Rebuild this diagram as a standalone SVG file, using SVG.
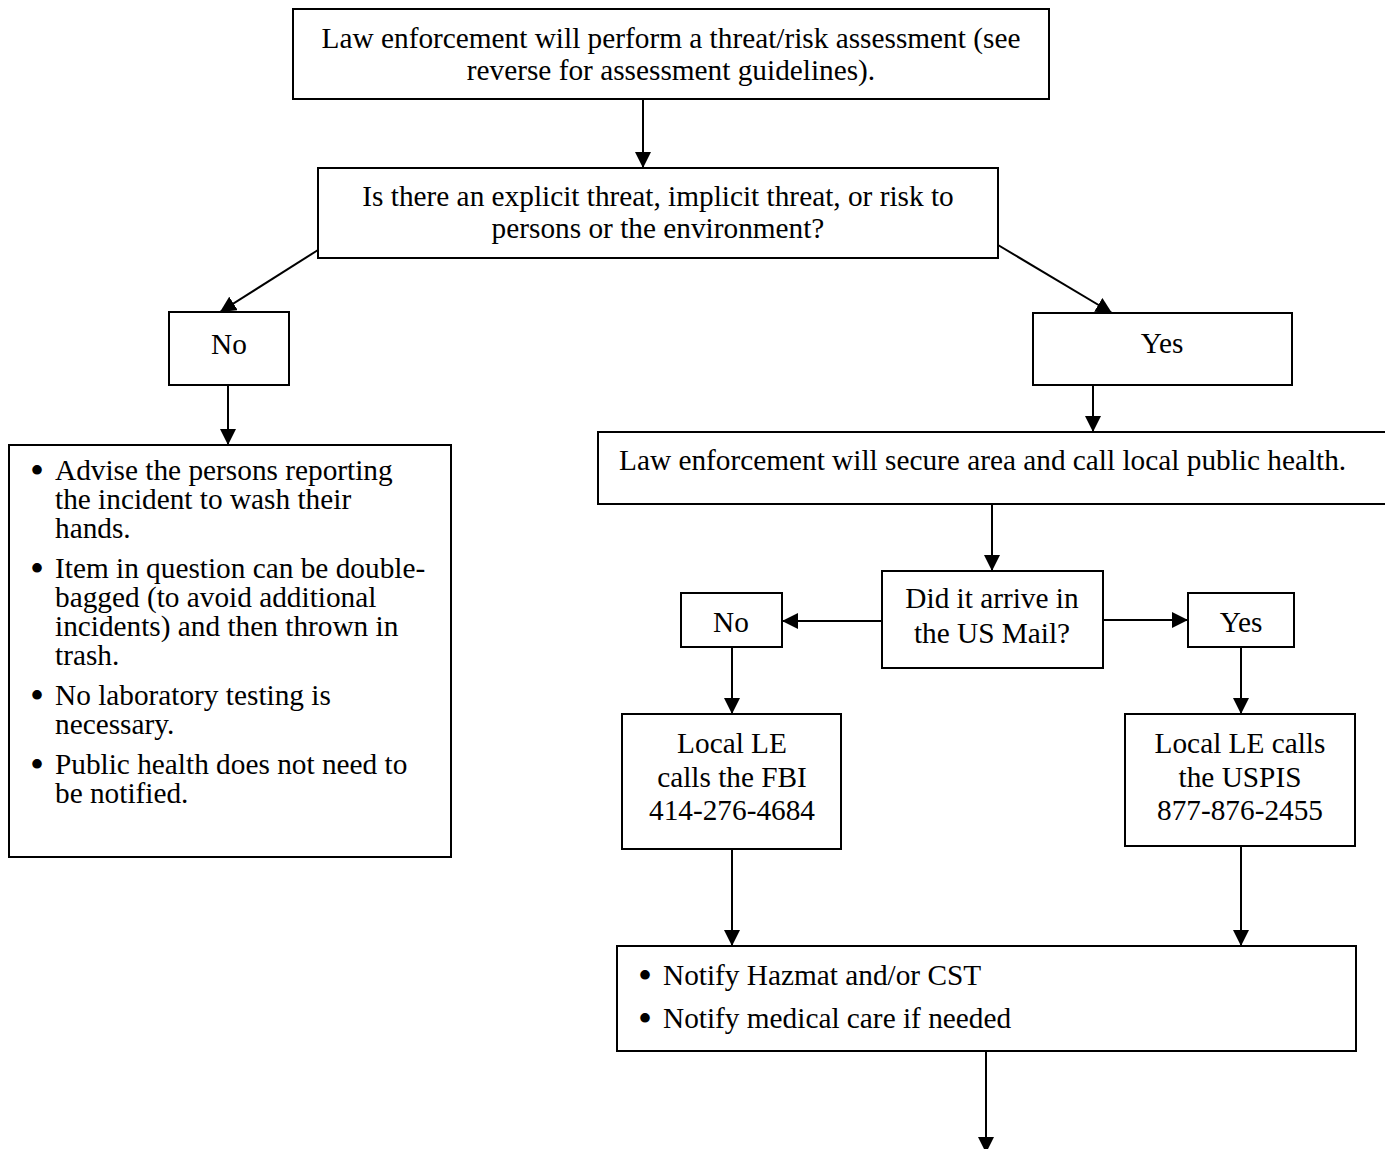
<svg xmlns="http://www.w3.org/2000/svg" width="1385" height="1149" viewBox="0 0 1385 1149">
<style>
.box{fill:#fff;stroke:#000;stroke-width:2}
.t{font-family:"Liberation Serif","Times New Roman",serif;font-size:29.3px;fill:#000}
.c{text-anchor:middle}
.b{text-anchor:middle;font-size:40px}
.conn line{stroke:#000;stroke-width:2;marker-end:url(#ah)}
</style>
<defs>
<marker id="ah" markerUnits="userSpaceOnUse" markerWidth="16" markerHeight="16" refX="16" refY="8" orient="auto">
<path d="M0,0 L16,8 L0,16 Z" fill="#000"/>
</marker>
</defs>
<rect width="1385" height="1149" fill="#fff"/>
<g class="conn">
<line x1="643" y1="99" x2="643" y2="168"/>
<line x1="318" y1="250" x2="220" y2="312"/>
<line x1="998" y1="245" x2="1112" y2="313"/>
<line x1="228" y1="385" x2="228" y2="445"/>
<line x1="1093" y1="385" x2="1093" y2="432"/>
<line x1="992" y1="504" x2="992" y2="571"/>
<line x1="882" y1="621" x2="782" y2="621"/>
<line x1="1103" y1="620" x2="1188" y2="620"/>
<line x1="732" y1="647" x2="732" y2="714"/>
<line x1="1241" y1="647" x2="1241" y2="714"/>
<line x1="732" y1="849" x2="732" y2="946"/>
<line x1="1241" y1="846" x2="1241" y2="946"/>
<line x1="986" y1="1051" x2="986" y2="1153"/>
</g>
<g id="n-assess">
<rect class="box" x="293" y="9" width="756" height="90"/>
<text class="t c" x="671" y="48">Law enforcement will perform a threat/risk assessment (see</text>
<text class="t c" x="671" y="80">reverse for assessment guidelines).</text>
</g>
<g id="n-threat">
<rect class="box" x="318" y="168" width="680" height="90"/>
<text class="t c" x="658" y="206">Is there an explicit threat, implicit threat, or risk to</text>
<text class="t c" x="658" y="238">persons or the environment?</text>
</g>
<g id="n-no1">
<rect class="box" x="169" y="312" width="120" height="73"/>
<text class="t c" x="229" y="354">No</text>
</g>
<g id="n-yes1">
<rect class="box" x="1033" y="313" width="259" height="72"/>
<text class="t c" x="1162" y="353">Yes</text>
</g>
<g id="n-noaction">
<rect class="box" x="9" y="445" width="442" height="412"/>
<text class="t b" x="37" y="484">•</text>
<text class="t" x="55" y="480">Advise the persons reporting</text>
<text class="t" x="55" y="509">the incident to wash their</text>
<text class="t" x="55" y="538">hands.</text>
<text class="t b" x="37" y="582">•</text>
<text class="t" x="55" y="578">Item in question can be double-</text>
<text class="t" x="55" y="607">bagged (to avoid additional</text>
<text class="t" x="55" y="636">incidents) and then thrown in</text>
<text class="t" x="55" y="665">trash.</text>
<text class="t b" x="37" y="709">•</text>
<text class="t" x="55" y="705">No laboratory testing is</text>
<text class="t" x="55" y="734">necessary.</text>
<text class="t b" x="37" y="778">•</text>
<text class="t" x="55" y="774">Public health does not need to</text>
<text class="t" x="55" y="803">be notified.</text>
</g>
<g id="n-secure">
<rect class="box" x="598" y="432" width="800" height="72"/>
<text class="t" x="619" y="470">Law enforcement will secure area and call local public health.</text>
</g>
<g id="n-mail">
<rect class="box" x="882" y="571" width="221" height="97"/>
<text class="t c" x="992" y="608">Did it arrive in</text>
<text class="t c" x="992" y="643">the US Mail?</text>
</g>
<g id="n-no2">
<rect class="box" x="681" y="593" width="101" height="54"/>
<text class="t c" x="731" y="632">No</text>
</g>
<g id="n-yes2">
<rect class="box" x="1188" y="593" width="106" height="54"/>
<text class="t c" x="1241" y="632">Yes</text>
</g>
<g id="n-fbi">
<rect class="box" x="622" y="714" width="219" height="135"/>
<text class="t c" x="732" y="753">Local LE</text>
<text class="t c" x="732" y="787">calls the FBI</text>
<text class="t c" x="732" y="820">414-276-4684</text>
</g>
<g id="n-uspis">
<rect class="box" x="1125" y="714" width="230" height="132"/>
<text class="t c" x="1240" y="753">Local LE calls</text>
<text class="t c" x="1240" y="787">the USPIS</text>
<text class="t c" x="1240" y="820">877-876-2455</text>
</g>
<g id="n-notify">
<rect class="box" x="617" y="946" width="739" height="105"/>
<text class="t b" x="645" y="989">•</text>
<text class="t" x="663" y="985">Notify Hazmat and/or CST</text>
<text class="t b" x="645" y="1032">•</text>
<text class="t" x="663" y="1028">Notify medical care if needed</text>
</g>
</svg>
